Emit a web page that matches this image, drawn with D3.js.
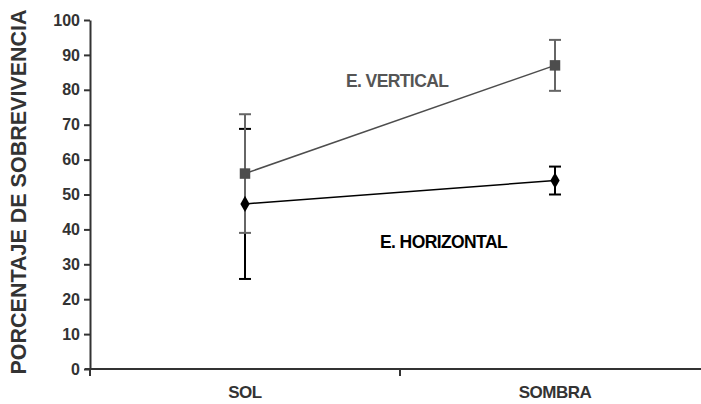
<!DOCTYPE html>
<html>
<head>
<meta charset="utf-8">
<script src="https://cdn.jsdelivr.net/npm/d3@7"></script>
<style>
  body { margin: 0; background: #fff; }
  svg text { font-family: "Liberation Sans", Arial, sans-serif; font-weight: 700; }
</style>
</head>
<body>
<div id="chart"></div>
<script>
// data
var categories = ["SOL", "SOMBRA"];
var verticalMean = [56, 87];
var verticalErr = [17, 7.3];
var horizontalMean = [47.3, 54];
var horizontalErr = [21.5, 4];
var yTicks = [0, 10, 20, 30, 40, 50, 60, 70, 80, 90, 100];

var width = 701, height = 404;
var margin = { top: 20, right: -9, bottom: 35, left: 90 };

var svg = d3.select("#chart")
    .append("svg")
    .attr("width", width)
    .attr("height", height);

var g = svg.append("g")
    .attr("transform", "translate(" + margin.left + "," + margin.top + ")");

var innerW = width - margin.left - margin.right;
var innerH = 369 - margin.top;

var x = d3.scaleBand()
    .domain(categories)
    .range([0, innerW]);

var y = d3.scaleLinear()
    .domain([0, 100])
    .range([innerH, 0]);

// y axis
var yAxis = g.append("g")
    .call(d3.axisLeft(y).tickValues(yTicks).tickSize(6).tickSizeOuter(0));
yAxis.attr("font-family", null).attr("font-size", null);
yAxis.select(".domain").attr("stroke", "#333").attr("stroke-width", 2);
yAxis.selectAll(".tick line").attr("stroke", "#333").attr("stroke-width", 2);
yAxis.selectAll(".tick text")
    .attr("fill", "#333")
    .attr("x", -10)
    .style("font-size", "16px");

// x axis, ticks sit between categories
var xAxis = g.append("g")
    .attr("transform", "translate(0," + innerH + ")");
xAxis.append("line")
    .attr("x1", -5).attr("x2", innerW)
    .attr("stroke", "#333").attr("stroke-width", 2);
xAxis.selectAll(".xtick")
    .data([0].concat(categories.map(function (c) { return x(c) + x.bandwidth(); })))
    .enter().append("line")
    .attr("x1", function (d) { return d; })
    .attr("x2", function (d) { return d; })
    .attr("y1", 0).attr("y2", 7)
    .attr("stroke", "#333").attr("stroke-width", 2);
xAxis.selectAll(".xlab")
    .data(categories)
    .enter().append("text")
    .attr("x", function (d) { return x(d) + x.bandwidth() / 2; })
    .attr("y", 29)
    .attr("text-anchor", "middle")
    .attr("fill", "#333")
    .style("font-size", "17px")
    .style("letter-spacing", "-0.5px")
    .text(function (d) { return d; });

// y axis title
svg.append("text")
    .attr("transform", "translate(26,192) rotate(-90)")
    .attr("text-anchor", "middle")
    .attr("fill", "#333")
    .style("font-size", "21.5px")
    .text("PORCENTAJE DE SOBREVIVENCIA");

function cx(d, i) { return x(categories[i]) + x.bandwidth() / 2; }

function drawErrors(means, errs, errColor) {
    var s = g.append("g");
    means.forEach(function (m, i) {
        var px = cx(m, i);
        s.append("line")
            .attr("x1", px).attr("x2", px)
            .attr("y1", y(m + errs[i])).attr("y2", y(m - errs[i]))
            .attr("stroke", errColor).attr("stroke-width", 2);
        [m + errs[i], m - errs[i]].forEach(function (v) {
            s.append("line")
                .attr("x1", px - 6).attr("x2", px + 6)
                .attr("y1", y(v)).attr("y2", y(v))
                .attr("stroke", errColor).attr("stroke-width", 2);
        });
    });
}

function drawSeries(means, color, shape) {
    var s = g.append("g");
    s.append("path")
        .datum(means)
        .attr("fill", "none")
        .attr("stroke", color)
        .attr("stroke-width", 1.5)
        .attr("d", d3.line().x(cx).y(function (d) { return y(d); }));
    s.selectAll(".pt")
        .data(means)
        .enter().append("path")
        .attr("transform", function (d, i) { return "translate(" + cx(d, i) + "," + y(d) + ")"; })
        .attr("d", d3.symbol().type(shape).size(shape === d3.symbolSquare ? 110 : 75))
        .attr("fill", color);
}

// error bars under the lines, vertical series over horizontal
drawErrors(horizontalMean, horizontalErr, "#000");
drawErrors(verticalMean, verticalErr, "#666");
drawSeries(verticalMean, "#4d4d4d", d3.symbolSquare);
drawSeries(horizontalMean, "#000", d3.symbolDiamond);

// series labels
g.append("text")
    .attr("x", 256).attr("y", 67)
    .attr("fill", "#555")
    .style("font-size", "17.5px")
    .style("letter-spacing", "-0.6px")
    .text("E. VERTICAL");

g.append("text")
    .attr("x", 290).attr("y", 228)
    .attr("fill", "#000")
    .style("font-size", "17.5px")
    .style("letter-spacing", "-0.6px")
    .text("E. HORIZONTAL");
</script>
</body>
</html>
